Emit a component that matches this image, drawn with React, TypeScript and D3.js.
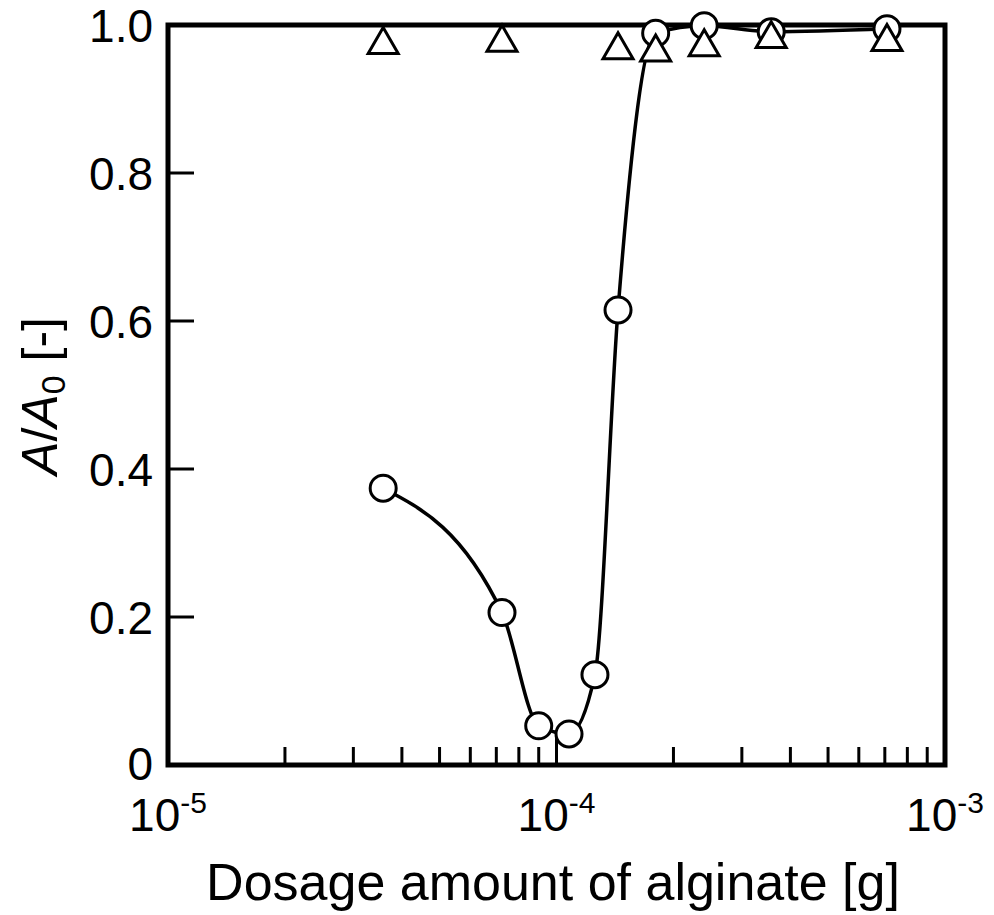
import React from 'react';
import * as d3 from 'd3';

// circles: A/A0 vs dosage (with curve)
const circleDose = [3.58e-5, 7.24e-5, 9.0e-5, 1.077e-4, 1.256e-4, 1.44e-4, 1.8e-4, 2.4e-4, 3.57e-4, 7.09e-4];
const circleRatio = [0.374, 0.206, 0.053, 0.042, 0.122, 0.615, 0.989, 0.999, 0.991, 0.995];

// triangles: no curve
const triangleDose = [3.58e-5, 7.24e-5, 1.44e-4, 1.8e-4, 2.4e-4, 3.57e-4, 7.09e-4];
const triangleRatio = [0.979, 0.982, 0.972, 0.969, 0.976, 0.987, 0.983];

const yTicks = [0, 0.2, 0.4, 0.6, 0.8, 1.0];
const yTickLabels = ['0', '0.2', '0.4', '0.6', '0.8', '1.0'];
const xMajor = [1e-5, 1e-4, 1e-3];
const xMajorExp = ['-5', '-4', '-3'];

const W = 994;
const H = 915;
const margin = { left: 168, right: 49, top: 25, bottom: 150 };

export default function App() {
    const x = d3.scaleLog()
        .domain([1e-5, 1e-3])
        .range([margin.left, W - margin.right]);
    const y = d3.scaleLinear()
        .domain([0, 1])
        .range([H - margin.bottom, margin.top]);

    const circles = circleDose.map((d, i) => ({ x: d, y: circleRatio[i] }));
    const triangles = triangleDose.map((d, i) => ({ x: d, y: triangleRatio[i] }));

    const line = d3.line<{ x: number; y: number }>()
        .x(d => x(d.x))
        .y(d => y(d.y))
        .curve(d3.curveMonotoneX);

    const minorTicks = x.ticks().filter(t => !xMajor.some(m => Math.abs(m - t) / m < 1e-6));

    const tri = (cx: number, cy: number) => {
        const s = 30;
        const h = s * Math.sqrt(3) / 2;
        return `M${cx},${cy - h / 2}L${cx + s / 2},${cy + h / 2}L${cx - s / 2},${cy + h / 2}Z`;
    };

    const font = 'Arial, "Liberation Sans", Helvetica, sans-serif';
    const y0 = y(0);

    return (
        <svg width={W} height={H} style={{ position: 'absolute', left: 0, top: 0, background: '#fff' }} fontFamily={font}>
            {/* curve */}
            <path d={line(circles) || ''} fill="none" stroke="#000" strokeWidth={3.5} />

            {/* minor x ticks */}
            {minorTicks.map((t, i) => (
                <line key={'mn' + i} x1={x(t)} x2={x(t)} y1={y0} y2={y0 - 18} stroke="#000" strokeWidth={3} />
            ))}
            {xMajor.map((t, i) => (
                <line key={'mj' + i} x1={x(t)} x2={x(t)} y1={y0} y2={y0 - 30} stroke="#000" strokeWidth={3} />
            ))}
            {/* y ticks */}
            {yTicks.map((t, i) => (
                <line key={'yt' + i} x1={margin.left} x2={margin.left + 26} y1={y(t)} y2={y(t)} stroke="#000" strokeWidth={3} />
            ))}

            {/* frame */}
            <rect x={margin.left} y={margin.top} width={W - margin.left - margin.right} height={H - margin.top - margin.bottom}
                fill="none" stroke="#000" strokeWidth={5} />

            {/* circles */}
            {circles.map((d, i) => (
                <circle key={'c' + i} cx={x(d.x)} cy={y(d.y)} r={13} fill="#fff" stroke="#000" strokeWidth={3} />
            ))}
            {/* triangles */}
            {triangles.map((d, i) => (
                <path key={'t' + i} d={tri(x(d.x), y(d.y))} fill="#fff" stroke="#000" strokeWidth={3} strokeLinejoin="miter" />
            ))}

            {/* y tick labels */}
            {yTicks.map((t, i) => (
                <text key={'yl' + i} x={153} y={y(t) + (i === 0 ? 15 : 17)} textAnchor="end" fontSize={46}>{yTickLabels[i]}</text>
            ))}
            {/* x tick labels */}
            {xMajor.map((t, i) => (
                <text key={'xl' + i} x={x(t)} y={831} textAnchor="middle" fontSize={46}>
                    10<tspan fontSize={30} dy={-18}>{xMajorExp[i]}</tspan>
                </text>
            ))}

            {/* axis titles */}
            <text x={553} y={900} textAnchor="middle" fontSize={52}>Dosage amount of alginate [g]</text>
            <text transform={`translate(57,396) rotate(-90)`} textAnchor="middle" fontSize={50}>
                <tspan fontStyle="italic">A</tspan>/<tspan fontStyle="italic">A</tspan>
                <tspan fontSize={34} dy={8}>0</tspan>
                <tspan dy={-8}> [-]</tspan>
            </text>
        </svg>
    );
}
